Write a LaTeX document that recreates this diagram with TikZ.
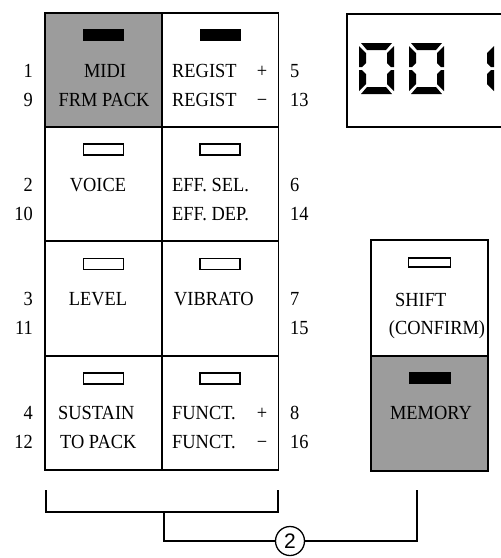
\documentclass[tikz,border=0pt]{standalone}
\usepackage{fontspec}
\setmainfont[FakeStretch=0.92]{Liberation Serif}
\setsansfont{Liberation Sans}
\usetikzlibrary{positioning}
\definecolor{keygray}{HTML}{9C9C9C}

\tikzset{
  digitzero/.pic={
    \fill (2,0) -- (33,0) -- (27,7) -- (8,7) -- cycle;
    \fill (2,51) -- (33,51) -- (27,44) -- (8,44) -- cycle;
    \fill (0,3) -- (7,10) -- (7,20) -- (3,24) -- (0,24) -- cycle;
    \fill (0,27) -- (3,27) -- (7,31) -- (7,41) -- (0,48) -- cycle;
    \fill (35,3) -- (28,10) -- (28,20) -- (32,24) -- (35,24) -- cycle;
    \fill (35,27) -- (32,27) -- (28,31) -- (28,41) -- (35,48) -- cycle;
  },
  digitone/.pic={
    \fill (35,3) -- (28,10) -- (28,20) -- (32,24) -- (35,24) -- cycle;
    \fill (35,27) -- (32,27) -- (28,31) -- (28,41) -- (35,48) -- cycle;
  }
}

\begin{document}
\begin{tikzpicture}[x=1pt, y=-1pt, font=\fontsize{20}{22}\selectfont,
  key/.style={draw, line width=1.6pt, minimum width=117pt, minimum height=114pt, inner sep=0pt},
  graykey/.style={key, fill=keygray},
  ledon/.style={fill=black, minimum width=41pt, minimum height=12pt, inner sep=0pt},
  ledoff/.style={draw, line width=1.3pt, fill=white, minimum width=40pt, minimum height=11pt, inner sep=0pt},
  txt/.style={inner sep=0pt, anchor=base},
  wire/.style={line width=1.5pt}]
  \clip (0,0) rectangle (501,558);
  % key grid
  \node[graykey] (L1) at (103.5,70) {};
  \node[key] (R1) at (220,70) {};
  \foreach \r/\yc in {2/184,3/298.5,4/413}{
    \node[key] (L\r) at (103.5,\yc) {};
    \node[key] (R\r) at (220,\yc) {};
  }
  \node[ledon, below=17pt of L1.north] (ledL1) {};
  \node[ledon, below=17pt of R1.north] (ledR1) {};
  \foreach \r in {2,3,4}{
    \node[ledoff, below=17pt of L\r.north] (ledL\r) {};
    \node[ledoff, below=17pt of R\r.north] (ledR\r) {};
  }
  % numbers
  \foreach \r/\a/\b/\c/\d/\yb in {1/1/9/5/13/77, 2/2/10/6/14/191, 3/3/11/7/15/305, 4/4/12/8/16/419}{
    \node[txt, anchor=base east] (na\r) at (33,\yb) {\a};
    \node[txt, anchor=base east] (nb\r) at (33,\yb+29) {\b};
    \node[txt, anchor=base west] (nc\r) at (290,\yb) {\c};
    \node[txt, anchor=base west] (nd\r) at (290,\yb+29) {\d};
  }
  % key labels
  \node[txt] (midi) at (105,77) {MIDI};
  \node[txt] (frmpack) at (104,106) {FRM PACK};
  \node[txt, anchor=base west] (regup) at (172,77) {\makebox[95pt][l]{REGIST\hfill+}};
  \node[txt, anchor=base west] (regdn) at (172,106) {\makebox[95pt][l]{REGIST\hfill−}};
  \node[txt] (voice) at (98,191) {VOICE};
  \node[txt, anchor=base west] (effsel) at (172,191) {EFF. SEL.};
  \node[txt, anchor=base west] (effdep) at (172,220) {EFF. DEP.};
  \node[txt] (level) at (98,305) {LEVEL};
  \node[txt, anchor=base west] (vibrato) at (174,305) {VIBRATO};
  \node[txt, anchor=base west] (sustain) at (58,419) {SUSTAIN};
  \node[txt, anchor=base west] (topack) at (60,448) {TO PACK};
  \node[txt, anchor=base west] (fnup) at (172,419) {\makebox[95pt][l]{FUNCT.\hfill+}};
  \node[txt, anchor=base west] (fndn) at (172,448) {\makebox[95pt][l]{FUNCT.\hfill−}};

  % shift / memory
  \node[key, minimum height=116pt] (shift) at (429.5,298) {};
  \node[graykey, minimum height=115pt] (memory) at (429.5,413.5) {};
  \node[ledoff, minimum width=42pt, minimum height=9pt, below=18pt of shift.north] (ledshift) {};
  \node[ledon, minimum width=42pt, below=17pt of memory.north] (ledmem) {};
  \node[txt, anchor=base west] (shifttxt) at (395,306) {SHIFT};
  \node[txt] (confirm) at (437,334) {(CONFIRM)};
  \node[txt] (memtxt) at (431,419) {MEMORY};

  % display
  \node[draw, line width=1.6pt, minimum width=180pt, minimum height=113pt, inner sep=0pt, anchor=north west] (display) at (346,13) {};
  \pic at (359,43) {digitzero};
  \pic at (409,43) {digitzero};
  \pic at (459,43) {digitone};

  % bracket and callout
  \coordinate (bkl) at (46,490);
  \coordinate (bkr) at (278,490);
  \coordinate (bkm) at (164,512);
  \coordinate (memtick) at (417,490);
  \node[draw, circle, line width=1.3pt, minimum size=29pt, inner sep=0pt, font=\sffamily\fontsize{21}{21}\selectfont] (two) at (290,541) {2};
  \draw[wire] (bkl) |- (bkr |- bkm) -- (bkr);
  \draw[wire] (bkm) |- (two.west);
  \draw[wire] (two.east) -| (memtick);
\end{tikzpicture}
\end{document}
